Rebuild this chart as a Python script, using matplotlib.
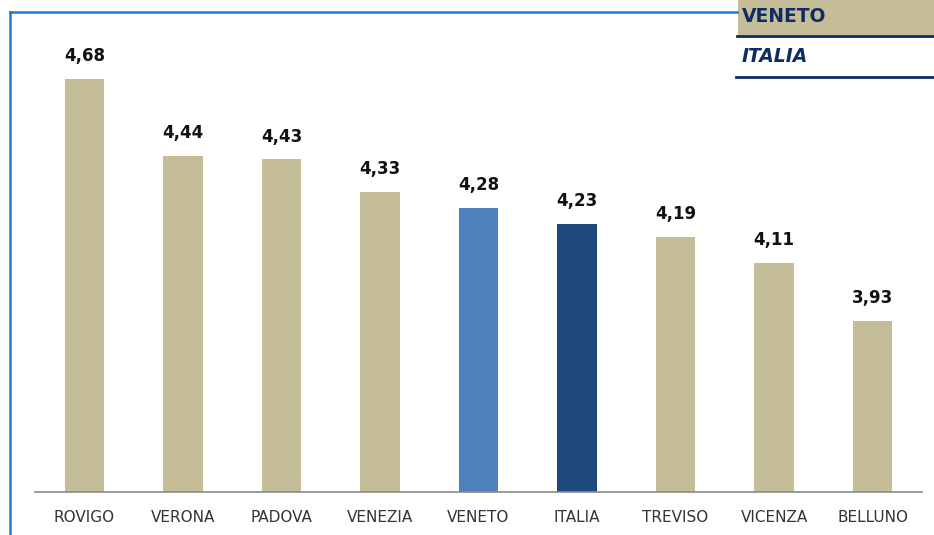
import matplotlib.pyplot as plt
from matplotlib.lines import Line2D
from matplotlib.patches import Rectangle

provinces = ['ROVIGO', 'VERONA', 'PADOVA', 'VENEZIA', 'VENETO', 'ITALIA',
             'TREVISO', 'VICENZA', 'BELLUNO']
values = [4.68, 4.44, 4.43, 4.33, 4.28, 4.23, 4.19, 4.11, 3.93]
value_labels = ['4,68', '4,44', '4,43', '4,33', '4,28', '4,23', '4,19', '4,11', '3,93']

TAN = '#C4BD97'
NAVY = '#0F2B63'
colors = [TAN] * len(provinces)
colors[provinces.index('VENETO')] = '#4F81BD'
colors[provinces.index('ITALIA')] = '#1F497D'

fig = plt.figure(figsize=(9.34, 5.35), dpi=100)
ax = fig.add_axes([35 / 934, 1 - 492 / 535, (922 - 35) / 934, (492 - 40) / 535])

x = range(len(provinces))
ax.bar(x, values, width=0.4, color=colors, zorder=2)
for i, (v, lab) in enumerate(zip(values, value_labels)):
    ax.annotate(lab, (i, v), xytext=(0, 10), textcoords='offset points',
                ha='center', va='bottom', fontsize=12, fontweight='bold', color='#111111')

ax.set_xlim(-0.5, len(provinces) - 0.5)
ax.set_ylim(3.4, 4.8)
ax.set_xticks(list(x))
ax.set_xticklabels(provinces, fontsize=11, color='#333333')
ax.tick_params(axis='x', length=0, pad=13)
ax.set_yticks([])
for side in ['top', 'right', 'left']:
    ax.spines[side].set_visible(False)
ax.spines['bottom'].set_color('#8a8a8a')
ax.spines['bottom'].set_linewidth(1.2)

# blue frame (left and top edges)
W, H = 934, 535
fig.add_artist(Line2D([10 / W, 10 / W], [0, 1 - 12 / H], color='#1E7BD0', lw=1.8))
fig.add_artist(Line2D([10 / W, 737 / W], [1 - 12 / H, 1 - 12 / H], color='#1E7BD0', lw=1.8))

# legend-like box top right
fig.add_artist(Rectangle((738 / W, 1 - 35 / H), (W - 738) / W, 35 / H,
                         transform=fig.transFigure, facecolor=TAN, edgecolor='none'))
fig.add_artist(Line2D([737 / W, 1], [1 - 36 / H, 1 - 36 / H], color=NAVY, lw=2))
fig.add_artist(Line2D([736 / W, 1], [1 - 77 / H, 1 - 77 / H], color=NAVY, lw=2))
fig.text(742 / W, 1 - 17 / H, 'VENETO', fontsize=13.5, fontweight='bold', color=NAVY,
         ha='left', va='center')
fig.text(742 / W, 1 - 57 / H, 'ITALIA', fontsize=13.5, fontweight='bold', fontstyle='italic',
         color=NAVY, ha='left', va='center')

fig.savefig('out.png', dpi=100)
